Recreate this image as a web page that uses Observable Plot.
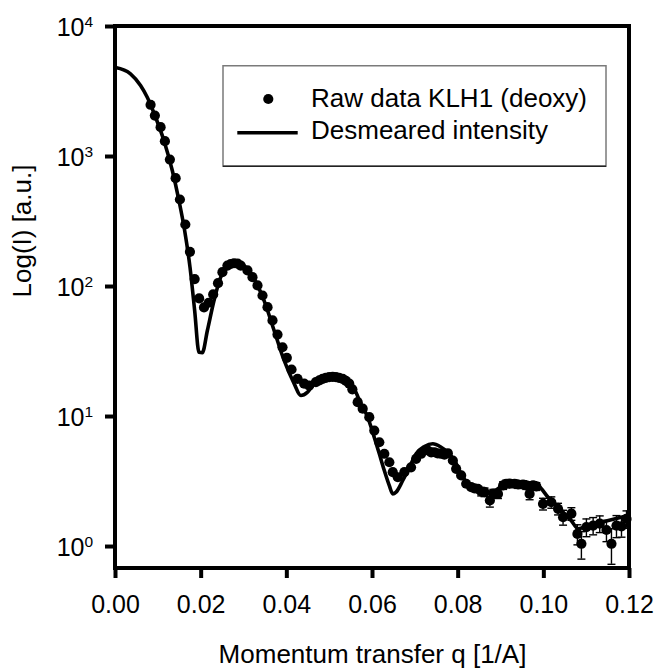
<!DOCTYPE html>
<html><head><meta charset="utf-8">
<script src="https://cdn.jsdelivr.net/npm/d3@7"></script>
<script src="https://cdn.jsdelivr.net/npm/@observablehq/plot@0.6"></script>
<style>
body{margin:0;background:#fff;}
#chart{position:relative;width:656px;height:668px;font-family:"Liberation Sans",Arial,sans-serif;}
#legend{position:absolute;left:222px;top:65px;}
</style></head><body><div id="chart"></div>
<script>
// Raw data KLH1 (deoxy): momentum transfer q [1/A], intensity, error
const rawQ = [0.00819,0.00919,0.01053,0.01153,0.0127,0.01404,0.01504,0.0163,0.01738,0.01848,
  0.01953,0.02066,0.02175,0.02281,0.02393,0.02496,0.02613,0.0269,0.02767,0.0285,
  0.02924,0.03081,0.03198,0.03315,0.03432,0.03549,0.03665,0.03782,0.03899,0.04,
  0.0411,0.0425,0.04405,0.04522,0.04678,0.0476,0.04835,0.0491,0.0499,0.0507,
  0.05146,0.0522,0.05303,0.0538,0.05457,0.0553,0.05654,0.05771,0.05925,0.06042,
  0.06159,0.06276,0.06393,0.06473,0.0659,0.06744,0.069,0.07018,0.07135,0.07291,
  0.0737,0.07446,0.0752,0.07602,0.0768,0.07759,0.07876,0.07953,0.0807,0.08187,
  0.08304,0.0838,0.08461,0.08538,0.08615,0.0874,0.0882,0.08929,0.0905,0.09123,
  0.092,0.09317,0.094,0.09514,0.0959,0.09668,0.0975,0.09825,0.09981,0.10175,
  0.10332,0.10449,0.10643,0.10784,0.10877,0.10994,0.11151,0.11305,0.11462,0.11579,
  0.11696,0.11813,0.1193];
const rawI = [2500,2066,1680,1312,948,681,467,300,185,114,
  81,69,75,87,106,129,145,149,151,150,
  145,133,118,102,85.3,69.3,54.8,42.7,34.1,28.3,
  23,19.5,17.9,17.3,18.4,19,19.5,19.8,20.1,20.2,
  20.1,19.8,19.5,18.8,17.9,16.2,12.9,11.5,9.88,7.8,
  6.34,5.17,4.45,3.73,3.41,3.73,4.07,4.73,5.17,5.48,
  5.3,5.31,5.2,5.17,5.1,5.22,4.59,3.96,3.52,3.04,
  2.86,2.8,2.78,2.65,2.62,2.26,2.55,2.54,2.95,3.04,
  3.05,3.04,3.0,3.0,2.95,2.54,2.95,2.9,2.13,2.19,
  1.95,1.68,1.79,1.25,1.05,1.41,1.45,1.5,1.34,1.05,
  1.45,1.43,1.63];
const rawErr = [0,0,0,0,0,0,0,0,0,0,
  0,0,0,0,0,0,0,0,0,0,
  0,0,0,0,0,0,0,0,0,0,
  0,0,0,0,0,0,0,0,0,0,
  0,0,0,0,0,0,0,0,0,0,
  0,0,0,0,0,0,0,0,0,0,
  0,0,0,0,0,0,0,0,0,0,
  0,0,0,0.2,0.2,0.25,0.2,0.2,0.2,0.2,
  0.2,0.2,0.2,0.2,0.2,0.25,0.2,0.2,0.22,0.22,
  0.2,0.22,0.2,0.22,0.25,0.22,0.22,0.22,0.25,0.32,
  0.28,0.25,0.25];
// Desmeared intensity
const fitQ = [0,0.0035,0.00585,0.00741,0.00936,0.0113,0.01326,0.01481,0.01614,0.01739,
  0.01848,0.01949,0.02027,0.02145,0.023,0.02456,0.02613,0.02807,0.03002,0.03158,
  0.03315,0.03469,0.03703,0.03937,0.04171,0.04327,0.04484,0.04639,0.04873,0.05107,
  0.0534,0.05574,0.05731,0.05887,0.06042,0.06159,0.06276,0.06393,0.06473,0.0655,
  0.06706,0.06861,0.07018,0.07212,0.07408,0.07602,0.07759,0.07914,0.0807,0.08227,
  0.08461,0.08772,0.08929,0.09083,0.09317,0.09631,0.09864,0.101,0.1041,0.10643,
  0.108,0.11034,0.11345,0.1197];
const fitI = [4840,4330,3517,2860,2005,1328,780,459,270,141,
  65.4,31.2,31,45.9,78,118,141,154,145,125,
  102,78,45.9,27,17.9,14.5,15.4,17.9,19.5,20.1,
  19.5,16.3,12.5,9.9,6.9,5.17,3.84,2.94,2.54,2.62,
  3.22,4.07,5.17,5.88,6.17,5.8,5.31,4.59,3.62,3.04,
  2.78,2.62,2.78,3.07,3.12,3.07,2.94,2.39,1.89,1.58,
  1.37,1.45,1.54,1.73];
const xTicks = [0, 0.02, 0.04, 0.06, 0.08, 0.10, 0.12];
const yExponents = [0, 1, 2, 3, 4];
const xLabel = "Momentum transfer q [1/A]";
const yLabel = "Log(I) [a.u.]";
const seriesNames = ["Raw data KLH1 (deoxy)", "Desmeared intensity"];

const raw = rawQ.map((q, i) => ({q, I: rawI[i], err: rawErr[i]}));
const fit = fitQ.map((q, i) => ({q, I: fitI[i]}));
const bars = raw.filter(d => d.err > 0);
const cap = {draw(ctx, size) { const w = Math.sqrt(size) / 2; ctx.moveTo(-w, 0); ctx.lineTo(w, 0); }};
const FONT = '"Liberation Sans", Arial, sans-serif';
const yMin = Math.pow(10, -0.169), yMax = 1e4;

const chart = Plot.plot({
  width: 656, height: 668,
  marginLeft: 115, marginRight: 27, marginTop: 26, marginBottom: 100,
  style: {fontFamily: FONT, background: "white", overflow: "visible", color: "black"},
  x: {domain: [0, 0.12]},
  y: {type: "log", domain: [yMin, yMax]},
  marks: [
    Plot.ruleX(bars, {x: "q", y1: d => d.I - d.err, y2: d => d.I + d.err, stroke: "black", strokeWidth: 1.4}),
    Plot.dot(bars, {x: "q", y: d => d.I + d.err, symbol: cap, r: 4.5, stroke: "black", strokeWidth: 1.4, fill: "none"}),
    Plot.dot(bars, {x: "q", y: d => d.I - d.err, symbol: cap, r: 4.5, stroke: "black", strokeWidth: 1.4, fill: "none"}),
    Plot.line(fit, {x: "q", y: "I", stroke: "black", strokeWidth: 3.6, curve: "monotone-x"}),
    Plot.dot(raw, {x: "q", y: "I", r: 5.1, fill: "black", stroke: "none"}),
    Plot.axisX(xTicks, {tickSize: 10, strokeWidth: 4, tickFormat: () => "", label: null}),
    Plot.axisY(yExponents.map(e => Math.pow(10, e)), {tickSize: 10, strokeWidth: 4, tickFormat: () => "", label: null}),
    Plot.ruleX([0, 0.12], {stroke: "black", strokeWidth: 4, strokeLinecap: "square", dx: -0.5}),
    Plot.ruleY([yMin, yMax], {stroke: "black", strokeWidth: 4, strokeLinecap: "square", dy: -0.5}),
    Plot.text(xTicks, {x: d => d, frameAnchor: "bottom", text: d => d.toFixed(2), lineAnchor: "bottom", dy: 44, fontSize: 25, fill: "black"}),
    Plot.text(yExponents, {y: e => Math.pow(10, e), frameAnchor: "left", text: () => "10", textAnchor: "end", lineAnchor: "bottom", dx: -31, dy: 9, fontSize: 25, fill: "black"}),
    Plot.text(yExponents, {y: e => Math.pow(10, e), frameAnchor: "left", text: e => String(e), textAnchor: "start", lineAnchor: "bottom", dx: -31, dy: 0.5, fontSize: 15.5, fill: "black"}),
    Plot.text([xLabel], {frameAnchor: "bottom", text: d => d, lineAnchor: "bottom", dy: 94, fontSize: 26, fill: "black"}),
    Plot.text([yLabel], {frameAnchor: "left", text: d => d, rotate: -90, lineAnchor: "bottom", dx: -85, fontSize: 26, fill: "black"})
  ]
});
const root = document.getElementById("chart");
root.appendChild(chart);

// Legend (overlay)
const ns = "http://www.w3.org/2000/svg";
const lg = document.createElementNS(ns, "svg");
lg.setAttribute("id", "legend");
lg.setAttribute("width", 386); lg.setAttribute("height", 103);
lg.setAttribute("font-family", FONT);
lg.innerHTML = `
  <rect x="1" y="0.75" width="383" height="100.5" fill="white" stroke="#7a7a7a" stroke-width="1.5"/>
  <line x1="1" x2="384" y1="101.25" y2="101.25" stroke="#222" stroke-width="1.5"/>
  <circle cx="46.3" cy="34" r="5.1" fill="black"/>
  <line x1="15.3" x2="75.7" y1="67.7" y2="67.7" stroke="black" stroke-width="3.5"/>
  <text x="89" y="42" font-size="26" fill="black">${seriesNames[0]}</text>
  <text x="89" y="73.5" font-size="26" fill="black">${seriesNames[1]}</text>`;
root.appendChild(lg);
</script></body></html>
